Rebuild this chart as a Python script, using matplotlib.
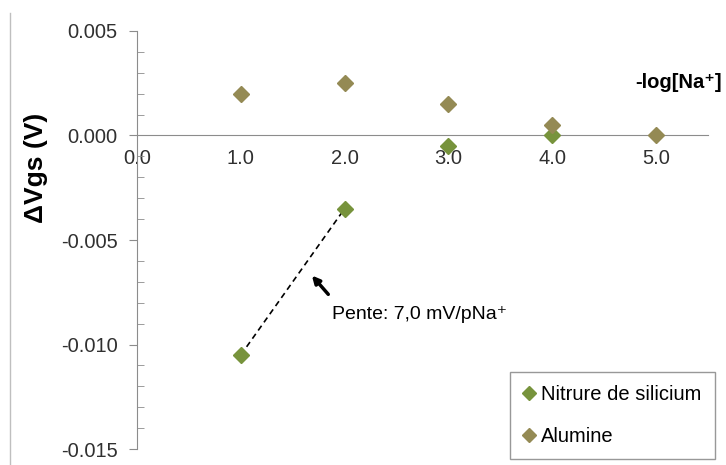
import matplotlib.pyplot as plt
from matplotlib.ticker import MultipleLocator, FormatStrFormatter
from matplotlib.lines import Line2D

# data
x_nitrure = [1.0, 2.0, 3.0, 4.0]
y_nitrure = [-0.0105, -0.0035, -0.0005, 0.0000]
x_alumine = [1.0, 2.0, 3.0, 4.0, 5.0]
y_alumine = [0.0020, 0.0025, 0.0015, 0.0005, 0.0000]
fit_x = [1.0, 2.0]
fit_y = [-0.0105, -0.0035]

plt.rcParams['font.family'] = ['Liberation Sans', 'DejaVu Sans']

fig = plt.figure(figsize=(7.26, 4.65), dpi=100)
ax = fig.add_axes([137 / 726, 1 - 449 / 465, 571 / 726, 418 / 465])

green = '#77933C'
olive = '#948A54'
axis_gray = '#8C8C8C'

ax.plot(x_nitrure, y_nitrure, 'D', color=green, ms=8, label='Nitrure de silicium', zorder=3)
ax.plot(x_alumine, y_alumine, 'D', color=olive, ms=8, label='Alumine', zorder=3)

# slope line between first two nitride points
ax.plot(fit_x, fit_y, '--', color='black', lw=1.2, dashes=(3.5, 2.5), zorder=2)
ax.annotate('', xy=(1.667, -0.0066), xytext=(1.86, -0.0077),
            arrowprops=dict(arrowstyle='-|>', color='black', lw=2.5, mutation_scale=11))
ax.text(1.88, -0.00855, 'Pente: 7,0 mV/pNa\u207a', fontsize=14, va='center', ha='left')

ax.set_xlim(0, 5.5)
ax.set_ylim(-0.015, 0.005)

ax.spines['top'].set_visible(False)
ax.spines['right'].set_visible(False)
ax.spines['bottom'].set_position(('data', 0))
ax.spines['bottom'].set_color(axis_gray)
ax.spines['left'].set_color(axis_gray)

ax.xaxis.set_major_locator(MultipleLocator(1.0))
ax.xaxis.set_major_formatter(FormatStrFormatter('%.1f'))
ax.yaxis.set_major_locator(MultipleLocator(0.005))
ax.yaxis.set_minor_locator(MultipleLocator(0.001))
ax.yaxis.set_major_formatter(FormatStrFormatter('%.3f'))

ax.tick_params(axis='x', length=0, pad=10, labelsize=14.5, colors='#303030')
ax.tick_params(axis='y', which='major', direction='out', length=6, color=axis_gray,
               labelsize=14.5, labelcolor='#303030', pad=8)
ax.tick_params(axis='y', which='minor', direction='in', length=5, color=axis_gray)

fig.text(36 / 726, 1 - 168 / 465, '\u0394Vgs (V)', rotation=90, fontsize=19,
         fontweight='bold', ha='center', va='center')
fig.text(722 / 726, 1 - 82 / 465, '-log[Na\u207a]', fontsize=14.5,
         fontweight='bold', ha='right', va='center')

leg = ax.legend(loc='upper left', bbox_to_anchor=(510 / 726, 1 - 372 / 465),
                bbox_transform=fig.transFigure, borderaxespad=0, fontsize=14.5,
                frameon=True, fancybox=False, markerscale=0.85, handlelength=0.6,
                handletextpad=0.3, labelspacing=1.15, borderpad=0.65)
leg.get_frame().set_edgecolor('#7F7F7F')
leg.get_frame().set_linewidth(1.0)

# left border of the chart area
fig.add_artist(Line2D([10 / 726, 10 / 726], [0, 1 - 13 / 465], transform=fig.transFigure,
                      color='#BFBFBF', lw=1))

plt.savefig('out.png', dpi=100)
